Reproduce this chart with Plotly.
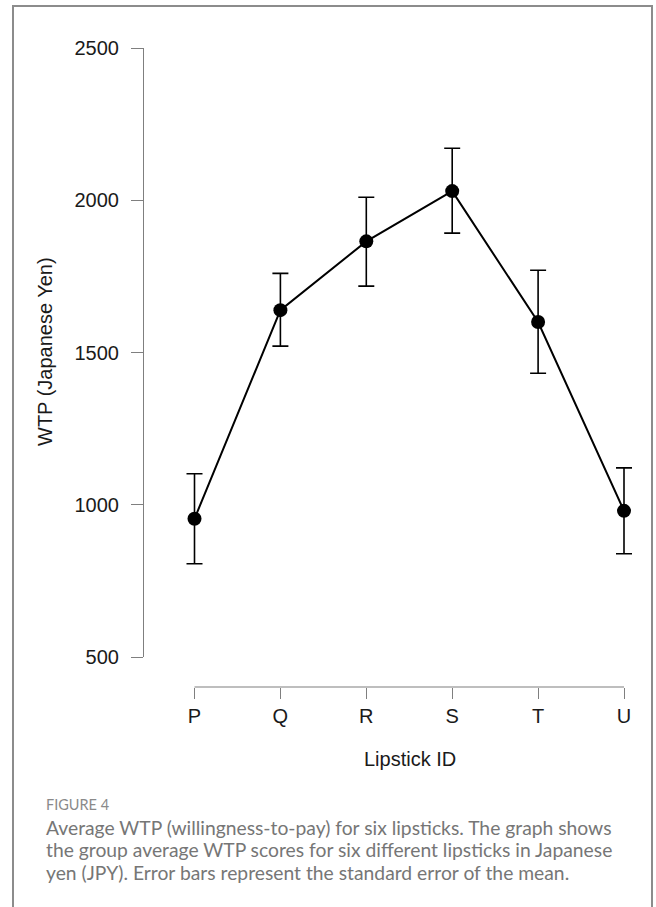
import plotly.graph_objects as go

lipsticks = ["P", "Q", "R", "S", "T", "U"]
wtp_mean = [954, 1639, 1865, 2030, 1600, 980]
wtp_se_upper = [148, 121, 145, 141, 170, 141]
wtp_se_lower = [148, 118, 147, 138, 168, 141]
y_ticks = [500, 1000, 1500, 2000, 2500]

W, H = 656, 907
left_px, right_px, top_px, bottom_px = 143, 645, 48, 687
plot_w = right_px - left_px
plot_h = bottom_px - top_px
p_px, u_px = 194.5, 624
unit = (u_px - p_px) / (len(lipsticks) - 1)
x_lo = -(p_px - left_px) / unit
x_hi = (right_px - p_px) / unit

def px_x(px):
    return (px - left_px) / plot_w

def px_y(py):
    return (bottom_px - py) / plot_h

fig = go.Figure()
fig.add_trace(go.Scatter(
    x=list(range(len(lipsticks))), y=wtp_mean,
    mode="lines+markers",
    line=dict(color="black", width=2),
    marker=dict(color="black", size=14),
    error_y=dict(type="data", symmetric=False, array=wtp_se_upper,
                 arrayminus=wtp_se_lower, color="black", thickness=1.6, width=8),
    cliponaxis=False, showlegend=False,
))

axis_font = dict(family="Liberation Sans, Arial, sans-serif", size=20, color="#1a1a1a")

fig.update_layout(
    width=W, height=H,
    margin=dict(l=left_px, r=W - right_px, t=top_px, b=H - bottom_px),
    paper_bgcolor="white", plot_bgcolor="white",
    xaxis=dict(
        domain=[0, 1], anchor="free", position=0,
        range=[x_lo, x_hi], tickmode="array",
        tickvals=list(range(len(lipsticks))), ticktext=lipsticks,
        showgrid=False, zeroline=False, showline=False,
        ticks="outside", ticklen=11, tickwidth=1.2, tickcolor="#7f7f7f",
        tickfont=axis_font,
    ),
    yaxis=dict(
        domain=[px_y(657), 1], anchor="free", position=0,
        range=[500, 2500], tickmode="array", tickvals=y_ticks,
        showgrid=False, zeroline=False, showline=True,
        linecolor="#7f7f7f", linewidth=1.2,
        ticks="outside", ticklen=12, tickwidth=1.2, tickcolor="#7f7f7f",
        tickfont=axis_font, ticklabelstandoff=8,
    ),
)

# x axis line spanning only the first to last category (R-style)
fig.add_shape(type="line", xref="x", yref="paper",
              x0=0, x1=len(lipsticks) - 1, y0=0, y1=0,
              line=dict(color="#7f7f7f", width=1.2))

annotations = [
    dict(text="WTP (Japanese Yen)", xref="paper", yref="paper",
         x=px_x(45), y=px_y(352), textangle=-90, showarrow=False,
         xanchor="center", yanchor="middle", font=axis_font),
    dict(text="Lipstick ID", xref="paper", yref="paper",
         x=px_x(410), y=px_y(759), showarrow=False,
         xanchor="center", yanchor="middle", font=axis_font),
    dict(text="FIGURE 4", xref="paper", yref="paper",
         x=px_x(44), y=px_y(804), showarrow=False,
         xanchor="left", yanchor="middle",
         font=dict(family="Lato, Open Sans, sans-serif", size=14.5, color="#8a8a8a")),
]
caption_lines = [
    "Average WTP (willingness-to-pay) for six lipsticks. The graph shows",
    "the group average WTP scores for six different lipsticks in Japanese",
    "yen (JPY). Error bars represent the standard error of the mean.",
]
for i, line in enumerate(caption_lines):
    annotations.append(dict(
        text=line, xref="paper", yref="paper",
        x=px_x(44), y=px_y(827 + 22.5 * i), showarrow=False,
        xanchor="left", yanchor="middle",
        font=dict(family="Lato, Open Sans, sans-serif", size=19.3, color="#767676")))
fig.update_layout(annotations=annotations)

fig.add_shape(type="rect", xref="paper", yref="paper",
              x0=px_x(13), x1=px_x(652), y0=px_y(920), y1=px_y(6),
              line=dict(color="#8c8c8c", width=2), fillcolor="rgba(0,0,0,0)", layer="below")

fig.write_html("out.html")
